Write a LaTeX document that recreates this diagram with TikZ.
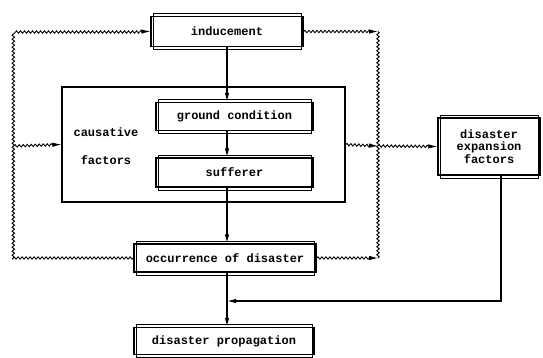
\documentclass[tikz,border=0pt]{standalone}
\usepackage{fontspec}
\setmainfont{Liberation Mono}
\usetikzlibrary{decorations.pathmorphing,arrows.meta}
\begin{document}
\begin{tikzpicture}[x=1pt,y=-1pt,
  font=\fontsize{12}{13}\selectfont\bfseries,
  dbox/.style={draw, line width=1.3pt, inner sep=0pt, align=center},
  sbox/.style={draw, line width=1.2pt, inner sep=0pt},
  inner/.style={line width=0.7pt},
  txt/.style={inner sep=0pt},
  arr/.style={line width=1.2pt, -{Latex[length=9pt,width=4.5pt]}},
  wav/.style={line width=0.9pt, decorate, decoration={snake, segment length=4pt, amplitude=1.2pt}},
  wavarr/.style={line width=0.9pt, -{Latex[length=9pt,width=4.5pt]}, decorate, decoration={snake, segment length=4pt, amplitude=1.2pt, post length=7pt}}]
\useasboundingbox (0,0) rectangle (543,357);
% boxes
\node[dbox, minimum width=152pt, minimum height=30pt] (ind) at (227,31.5) {inducement};
\node[sbox, minimum width=283pt, minimum height=115pt] (caus) at (203.5,144.5) {};
\node[dbox, minimum width=157pt, minimum height=28pt] (gc) at (234.5,116.5) {ground condition};
\node[dbox, minimum width=157pt, minimum height=29pt] (suf) at (234.5,172.5) {sufferer};
\node[txt] (t1) at (106,132) {causative};
\node[txt] (t2) at (106,160) {factors};
\node[dbox, minimum width=182pt, minimum height=28pt] (occ) at (225,258) {occurrence of disaster};
\node[dbox, minimum width=180pt, minimum height=27pt] (prop) at (224,341) {disaster propagation};
\node[dbox, minimum width=102pt, minimum height=57pt, font=\fontsize{12}{12.5}\selectfont\bfseries] (exp) at (489,146.5) {disaster\\expansion\\factors};
% inner lines of the double borders
\foreach \n in {ind,gc,suf,occ,prop,exp}
  \draw[inner] ([xshift=2.5pt,yshift=2.5pt]\n.north west) rectangle ([xshift=-2.5pt,yshift=-2.5pt]\n.south east);
% coordinates
\coordinate (L1) at (14,31.5);
\coordinate (L2) at (14,258);
\coordinate (Lm) at (14,146);
\coordinate (R1) at (378,31.5);
\coordinate (R2) at (378,258);
\coordinate (Rm) at (378,146);
\coordinate (J) at (227,301);
\coordinate (E) at (501,301);
% straight arrows
\draw[arr] (ind.south) -- (ind.south |- gc.north);
\draw[arr] (ind.south |- gc.south) -- (ind.south |- suf.north);
\draw[arr] (ind.south |- suf.south) -- (ind.south |- occ.north);
\draw[arr] (ind.south |- occ.south) -- (ind.south |- prop.north);
\draw[arr] (exp.south -| E) -- (E) -- (J);
% wavy connectors
\draw[wavarr] (occ.west) -- (L2) -- (L1) -- (ind.west);
\draw[wavarr] (Lm) -- (caus.west);
\draw[wavarr] (ind.east) -- (R1);
\draw[wavarr] (occ.east) -- (R2);
\draw[wav] (R1) -- (R2);
\draw[wavarr] (caus.east) -- (Rm);
\draw[wavarr] (Rm) -- (exp.west);
\end{tikzpicture}
\end{document}
